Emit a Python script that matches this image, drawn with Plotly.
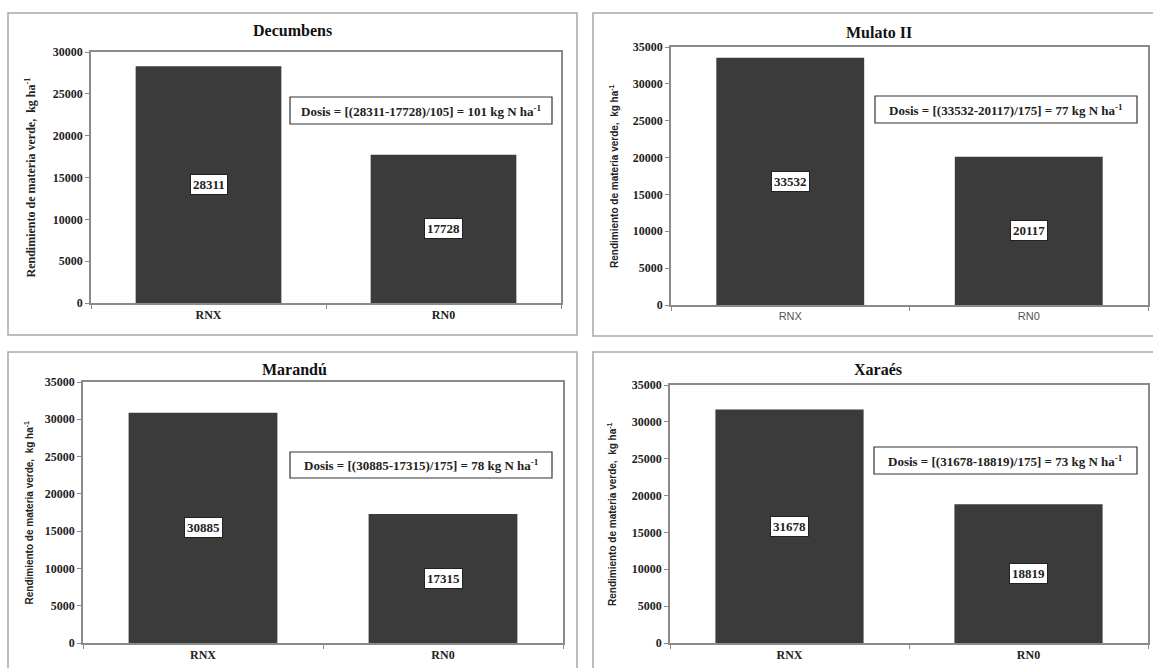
import plotly.graph_objects as go

# Canvas size in pixels
W, H = 1153, 668

# Data: green-matter yield (kg/ha) with nitrogen (RNX) and without (RN0)
categories = ["RNX", "RN0"]
titles = ["Decumbens", "Mulato II", "Marandú", "Xaraés"]
rnx_values = [28311, 33532, 30885, 31678]
rn0_values = [17728, 20117, 17315, 18819]
divisors = [105, 175, 175, 175]
doses = [101, 77, 78, 73]
y_max = [30000, 35000, 35000, 35000]
y_step = 5000

# Panel geometry (pixels): plot area, outer frame, title, dose box, y-title x
plot_px = [(91, 561, 52, 303), (671, 1148, 47, 305), (83, 563, 382, 643), (670, 1148, 385, 643)]
frame_px = [(8, 577, 13, 335), (593, 1165, 13, 336), (8, 577, 352, 680), (593, 1165, 352, 680)]
title_px = [(292, 31), (879, 32), (294, 369), (878, 369)]
dose_px = [(290, 552, 97, 124), (875, 1137, 96, 123), (290, 552, 452, 478), (874, 1137, 447, 474)]
ytitle_x = [30, 614, 28, 612]

SERIF = "Liberation Serif, Times New Roman, serif"
SANS = "Liberation Sans, Arial, sans-serif"
ytitle_font = [SERIF, SANS, SANS, SANS]
ytitle_size = [12, 10, 10, 10]
xtick_font = [dict(family=SERIF, size=12, color="#222222", weight="bold"),
              dict(family=SANS, size=11, color="#555555", weight="normal"),
              dict(family=SERIF, size=12, color="#222222", weight="bold"),
              dict(family=SERIF, size=12, color="#222222", weight="bold")]
ytick_font = dict(family=SERIF, size=12, color="#222222", weight="bold")
BAR = "#3b3b3b"


def px_x(v):
    return v / W


def px_y(v):
    return 1 - v / H


fig = go.Figure()
shapes = []
annotations = []
layout_axes = {}

for i in range(4):
    n = i + 1
    xa = "x" if n == 1 else f"x{n}"
    ya = "y" if n == 1 else f"y{n}"
    x0, x1, y0, y1 = plot_px[i]

    fig.add_trace(go.Bar(
        x=categories,
        y=[rnx_values[i], rn0_values[i]],
        marker=dict(color=BAR, line=dict(width=0)),
        xaxis=xa, yaxis=ya,
        showlegend=False,
        hoverinfo="x+y",
    ))

    layout_axes[f"xaxis{'' if n == 1 else n}"] = dict(
        domain=[px_x(x0), px_x(x1)],
        anchor=ya,
        showline=True, mirror=True, linecolor="#8a8a8a", linewidth=1.5,
        ticks="outside", tickson="boundaries", ticklen=4, tickcolor="#8a8a8a",
        tickfont=xtick_font[i],
        showgrid=False, zeroline=False, fixedrange=True,
    )
    layout_axes[f"yaxis{'' if n == 1 else n}"] = dict(
        domain=[px_y(y1), px_y(y0)],
        anchor=xa,
        range=[0, y_max[i]],
        tickmode="linear", tick0=0, dtick=y_step, tickformat="d",
        showline=True, mirror=True, linecolor="#8a8a8a", linewidth=1.5,
        ticks="outside", ticklen=4, tickcolor="#8a8a8a",
        tickfont=ytick_font,
        showgrid=False, zeroline=False, fixedrange=True,
    )

    # Outer panel frame
    fx0, fx1, fy0, fy1 = frame_px[i]
    shapes.append(dict(type="rect", xref="paper", yref="paper",
                       x0=px_x(fx0), x1=px_x(fx1), y0=px_y(fy1), y1=px_y(fy0),
                       line=dict(color="#a8a8a8", width=1.5), layer="below"))

    # Panel title
    tx, ty = title_px[i]
    annotations.append(dict(text=f"<b>{titles[i]}</b>", xref="paper", yref="paper",
                            x=px_x(tx), y=px_y(ty), showarrow=False,
                            xanchor="center", yanchor="middle",
                            font=dict(family=SERIF, size=16, color="#111111")))

    # Y-axis title
    annotations.append(dict(text="<b>Rendimiento de materia verde,  kg ha<sup>-1</sup></b>",
                            xref="paper", yref="paper",
                            x=px_x(ytitle_x[i]), y=px_y((y0 + y1) / 2),
                            textangle=-90, showarrow=False,
                            xanchor="center", yanchor="middle",
                            font=dict(family=ytitle_font[i], size=ytitle_size[i], color="#222222")))

    # Dose box
    bx0, bx1, by0, by1 = dose_px[i]
    shapes.append(dict(type="rect", xref="paper", yref="paper",
                       x0=px_x(bx0), x1=px_x(bx1), y0=px_y(by1), y1=px_y(by0),
                       line=dict(color="#333333", width=1.2), fillcolor="white"))
    dose_text = (f"<b>Dosis = [({rnx_values[i]}-{rn0_values[i]})/{divisors[i]}] = "
                 f"{doses[i]} kg N ha<sup>-1</sup></b>")
    annotations.append(dict(text=dose_text, xref="paper", yref="paper",
                            x=px_x((bx0 + bx1) / 2), y=px_y((by0 + by1) / 2),
                            showarrow=False, xanchor="center", yanchor="middle",
                            font=dict(family=SERIF, size=13, color="#222222")))

    # Value labels centred inside each bar
    for cat, val in zip(categories, [rnx_values[i], rn0_values[i]]):
        annotations.append(dict(text=f"<b>{val}</b>", xref=xa, yref=ya,
                                x=cat, y=val / 2, showarrow=False,
                                xanchor="center", yanchor="middle",
                                bgcolor="white", bordercolor="#222222", borderwidth=1,
                                borderpad=2,
                                font=dict(family=SERIF, size=13, color="#222222")))

fig.update_layout(
    template="none",
    width=W, height=H,
    margin=dict(l=0, r=0, t=0, b=0),
    paper_bgcolor="white", plot_bgcolor="white",
    font=dict(family=SERIF, color="#222222"),
    bargap=0.38,
    shapes=shapes,
    annotations=annotations,
    **layout_axes,
)

fig.write_html("out.html", config={"displayModeBar": False})
